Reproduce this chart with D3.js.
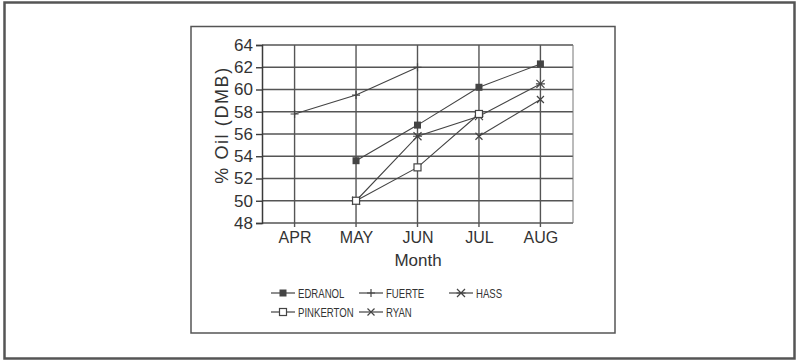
<!DOCTYPE html>
<html><head><meta charset="utf-8">
<script src="https://cdn.jsdelivr.net/npm/d3@7"></script>
<style>
html,body{margin:0;padding:0;background:#fff;}
svg{display:block;}
text{font-family:"Liberation Sans",Arial,sans-serif;fill:#333;}
</style></head>
<body>
<script>
const months = ["APR","MAY","JUN","JUL","AUG"];
const yTicks = [48,50,52,54,56,58,60,62,64];
const seriesNames = ["EDRANOL","FUERTE","HASS","PINKERTON","RYAN"];
const edranol   = [null, 53.6, 56.8, 60.2, 62.3];
const fuerte    = [57.8, 59.5, 62.0, null, null];
const hass      = [null, 50.0, 55.8, 57.6, 60.5];
const pinkerton = [null, 50.0, 53.0, 57.8, null];
const ryan      = [null, null, null, 55.8, 59.1];
const seriesValues = [edranol, fuerte, hass, pinkerton, ryan];
const markers = ["fsquare","plus","star","osquare","cross"];

const W = 799, H = 362;
const svg = d3.select("body").append("svg").attr("width", W).attr("height", H);
const ink = "#3a3a3a";

svg.append("rect").attr("x",4.5).attr("y",2.5).attr("width",790).attr("height",356)
  .attr("fill","none").attr("stroke","#555").attr("stroke-width",2.5);
svg.append("rect").attr("x",191).attr("y",26.5).attr("width",424).attr("height",306.5)
  .attr("fill","none").attr("stroke","#555").attr("stroke-width",1.5);

const x = d3.scalePoint().domain(months).range([262, 573]).padding(0.53);
const y = d3.scaleLinear().domain([48, 64]).range([223, 45]);

const g = svg.append("g");
g.selectAll(".hg").data(yTicks).join("line")
  .attr("x1", 262).attr("x2", 573)
  .attr("y1", d => y(d)).attr("y2", d => y(d))
  .attr("stroke", "#555").attr("stroke-width", 1.4);
g.selectAll(".vg").data(months).join("line")
  .attr("x1", d => x(d)).attr("x2", d => x(d))
  .attr("y1", y(64)).attr("y2", y(48) + 4)
  .attr("stroke", "#555").attr("stroke-width", 1.4);
g.append("line").attr("x1",573).attr("x2",573).attr("y1",y(64)).attr("y2",y(48))
  .attr("stroke","#777").attr("stroke-width",1);

const yAxis = d3.axisLeft(y).tickValues(yTicks).tickSize(6).tickPadding(3).tickFormat(d3.format("d"));
const ya = svg.append("g").attr("transform","translate(262,0)").call(yAxis);
ya.select(".domain").attr("stroke", ink).attr("stroke-width",1.5);
ya.selectAll(".tick line").attr("stroke", ink).attr("stroke-width",1.4);
ya.selectAll(".tick text").attr("font-size",17).attr("fill","#333")
  .attr("font-family",'"Liberation Sans",Arial,sans-serif');

const xAxis = d3.axisBottom(x).tickSize(0).tickPadding(9);
const xa = svg.append("g").attr("transform",`translate(0,${y(48)})`).call(xAxis);
xa.select(".domain").remove();
xa.selectAll(".tick text").attr("font-size",16).attr("fill","#333")
  .attr("font-family",'"Liberation Sans",Arial,sans-serif');

svg.append("text").attr("x",418).attr("y",266).attr("text-anchor","middle")
  .attr("font-size",17).text("Month");
svg.append("text").attr("transform","translate(228,125) rotate(-90)")
  .attr("text-anchor","middle").attr("font-size",18).attr("letter-spacing",1.6)
  .text("% Oil  (DMB)");

function drawMarker(sel, type, cx, cy){
  const s = sel.append("g").attr("transform",`translate(${cx},${cy})`);
  if(type==="fsquare"){
    s.append("rect").attr("x",-3.5).attr("y",-3.5).attr("width",7).attr("height",7).attr("fill","#444");
  } else if(type==="osquare"){
    s.append("rect").attr("x",-3.5).attr("y",-3.5).attr("width",7).attr("height",7)
      .attr("fill","#fff").attr("stroke","#444").attr("stroke-width",1.2);
  } else if(type==="plus"){
    s.append("path").attr("d","M-4,0H4M0,-4V4").attr("stroke","#444").attr("stroke-width",1.2);
  } else if(type==="star"){
    s.append("path").attr("d","M-4,-4L4,4M-4,4L4,-4M-4.5,0H4.5").attr("stroke","#444").attr("stroke-width",1.2);
  } else if(type==="cross"){
    s.append("path").attr("d","M-3.5,-3.5L3.5,3.5M-3.5,3.5L3.5,-3.5").attr("stroke","#444").attr("stroke-width",1.2);
  }
}

const line = d3.line().defined(d => d.v !== null).x(d => x(d.m)).y(d => y(d.v));
seriesValues.forEach((vals, i) => {
  const pts = months.map((m, j) => ({m, v: vals[j]}));
  svg.append("path").datum(pts).attr("d", line)
    .attr("fill","none").attr("stroke","#444").attr("stroke-width",1.1);
});
seriesValues.forEach((vals, i) => {
  months.forEach((m, j) => {
    if (vals[j] !== null) drawMarker(svg, markers[i], x(m), y(vals[j]));
  });
});

const legendPos = [[271,293],[359,293],[449,293],[271,312],[359,312]];
seriesNames.forEach((name, i) => {
  const [lx, ly] = legendPos[i];
  svg.append("line").attr("x1",lx).attr("x2",lx+24).attr("y1",ly).attr("y2",ly)
    .attr("stroke","#444").attr("stroke-width",1.2);
  drawMarker(svg, markers[i], lx+12, ly);
  svg.append("text").attr("transform",`translate(${lx+27},${ly+4.5}) scale(0.8,1)`)
    .attr("font-size",12).text(name);
});
</script>
</body></html>
